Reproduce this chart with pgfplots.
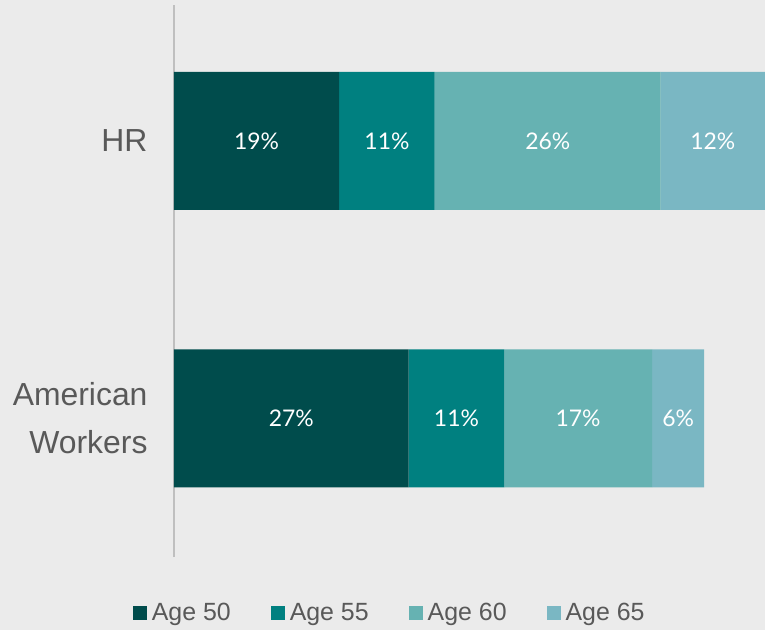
\documentclass[border=0pt]{standalone}
\usepackage{pgfplots}
\usepackage{pgfplotstable}
\pgfplotsset{compat=1.18}
\usepackage{fontspec}
\setmainfont{Liberation Sans}
\newfontfamily\lightfont{Lato}

\definecolor{bgcol}{HTML}{EBEBEB}
\definecolor{axgray}{HTML}{BFBFBF}
\definecolor{txtgray}{HTML}{595959}
\definecolor{cA}{HTML}{004C4C}
\definecolor{cB}{HTML}{008080}
\definecolor{cC}{HTML}{66B2B2}
\definecolor{cD}{HTML}{7AB7C3}

% y: 0 = American Workers, 1 = HR
\pgfplotstableread{
y v
0 27
1 19
}\agefifty
\pgfplotstableread{
y v
0 11
1 11
}\agefiftyfive
\pgfplotstableread{
y v
0 17
1 26
}\agesixty
\pgfplotstableread{
y v
0 6
1 12
}\agesixtyfive

\begin{document}
\begin{tikzpicture}
\fill[bgcol] (-174bp,-73bp) rectangle (591bp,557bp);
\useasboundingbox (-174bp,-73bp) rectangle (591bp,557bp);
\begin{axis}[
    at={(0,0)}, anchor=south west,
    scale only axis,
    width=591bp, height=552bp,
    xbar stacked,
    bar width=138bp,
    xmin=0, xmax=68,
    ymin=-0.5, ymax=1.49,
    clip=false,
    axis x line=none,
    axis y line*=left,
    y axis line style={draw=axgray, line width=1.2bp, -},
    ytick={0,1},
    yticklabels={{American\\Workers},HR},
    yticklabel style={align=right, text=txtgray, font=\fontsize{32}{48}\selectfont, xshift=-23bp},
    major tick length=0pt,
    /pgf/number format/assume math mode=true,
    point meta=explicit,
    nodes near coords={\pgfmathprintnumber{\pgfplotspointmeta}\%},
    every node near coord/.append style={anchor=center, text=white, font=\lightfont\fontsize{23}{28}\selectfont},
    legend columns=4,
    legend style={draw=none, fill=none, at={(0.365,-0.1015)}, anchor=center,
        font=\fontsize{25}{30}\selectfont, text=txtgray,
        /tikz/every even column/.append style={column sep=38bp}},
    legend image code/.code={\draw[#1,draw=none] (0bp,-7bp) rectangle (14bp,7bp); \path (17bp,0bp);},
]
\addplot[fill=cA, draw=none] table[x=v, y=y, meta=v] {\agefifty};
\addlegendentry{Age 50}
\addplot[fill=cB, draw=none] table[x=v, y=y, meta=v] {\agefiftyfive};
\addlegendentry{Age 55}
\addplot[fill=cC, draw=none] table[x=v, y=y, meta=v] {\agesixty};
\addlegendentry{Age 60}
\addplot[fill=cD, draw=none] table[x=v, y=y, meta=v] {\agesixtyfive};
\addlegendentry{Age 65}
\end{axis}
\end{tikzpicture}
\end{document}
